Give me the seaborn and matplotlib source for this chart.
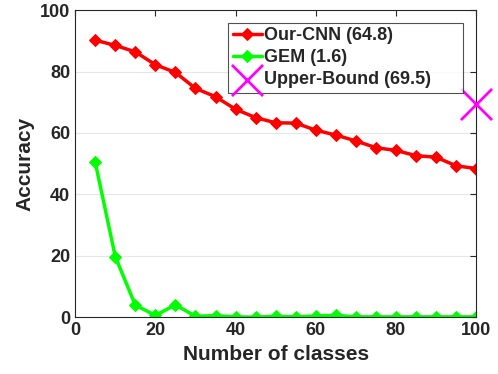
import numpy as np
import pandas as pd
import matplotlib
matplotlib.use("Agg")
import matplotlib.pyplot as plt
import seaborn as sns

# values
num_classes = [5, 10, 15, 20, 25, 30, 35, 40, 45, 50,
               55, 60, 65, 70, 75, 80, 85, 90, 95, 100]
our_cnn = [90.2, 88.5, 86.4, 82.2, 79.7, 74.5, 71.8, 67.7, 65.0, 63.3,
           63.2, 60.9, 59.3, 57.4, 55.2, 54.3, 52.6, 52.1, 49.3, 48.4]
gem = [50.4, 19.7, 3.9, 0.6, 4.0, 0.3, 0.5, 0.1, 0.0, 0.3,
       0.1, 0.4, 0.6, 0.1, 0.1, 0.1, 0.1, 0.1, 0.1, 0.1]
upper_x = [100]
upper_y = [69.5]

sns.set_style("white")
plt.rcParams['font.family'] = ['Liberation Sans', 'DejaVu Sans']
plt.rcParams['font.weight'] = 'bold'

df = pd.DataFrame({"classes": num_classes, "Our-CNN": our_cnn, "GEM": gem})

fig = plt.figure(figsize=(4.98, 3.74), dpi=100)
ax = fig.add_axes([0.151, 0.152, 0.805, 0.821])

sns.lineplot(data=df, x="classes", y="Our-CNN", ax=ax, color="#ff0000",
             marker="D", markersize=6, linewidth=2.5, markeredgecolor="#ff0000",
             label="Our-CNN (64.8)")
sns.lineplot(data=df, x="classes", y="GEM", ax=ax, color="#00ff00",
             marker="D", markersize=6, linewidth=2.5, markeredgecolor="#00ff00",
             label="GEM (1.6)")
sns.scatterplot(x=upper_x, y=upper_y, ax=ax, marker="x", s=500, color="#ff00ff",
                linewidth=2, label="Upper-Bound (69.5)", zorder=5, clip_on=False)

ax.set_xlim(0, 100)
ax.set_ylim(0, 100)
ax.set_xticks(range(0, 101, 20))
ax.set_yticks(range(0, 101, 20))
ax.yaxis.grid(True, color="#e6e6e6", linewidth=0.8)
ax.set_axisbelow(True)
for s in ax.spines.values():
    s.set_color("#262626")
    s.set_linewidth(0.8)
ax.tick_params(direction="in", length=4, width=0.8, top=True, right=True,
               labelsize=13, colors="#262626", labelcolor="#262626")
for lab in ax.get_xticklabels() + ax.get_yticklabels():
    lab.set_fontweight("bold")
ax.set_xlabel("Number of classes", fontsize=15, fontweight="bold", color="#262626")
ax.set_ylabel("Accuracy", fontsize=15, fontweight="bold", color="#262626")

leg = ax.legend(loc="upper left", bbox_to_anchor=(0.3815, 0.737, 0.586, 0.222),
                mode="expand", fontsize=13,
                frameon=True, fancybox=False, borderpad=0.25, labelspacing=0.28,
                handlelength=1.6, handletextpad=0.15, borderaxespad=0)
leg.get_frame().set_edgecolor("#262626")
leg.get_frame().set_linewidth(0.8)
for t in leg.get_texts():
    t.set_fontweight("bold")

fig.savefig("out.png", dpi=100)
